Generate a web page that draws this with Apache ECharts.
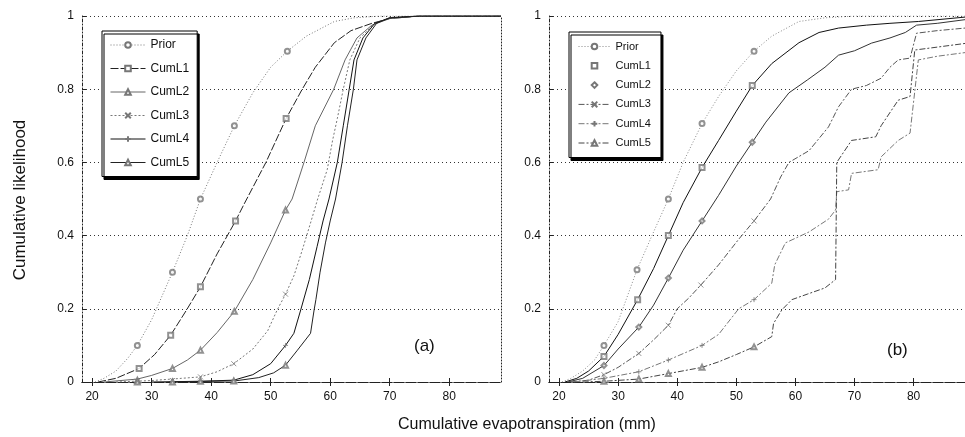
<!DOCTYPE html>
<html>
<head>
<meta charset="utf-8">
<script src="https://cdn.jsdelivr.net/npm/echarts@6/dist/echarts.min.js"></script>
<style>
  html, body { margin: 0; padding: 0; background: #fff; }
  #chart { width: 965px; height: 437px; }
</style>
</head>
<body>
<div id="chart"></div>
<script>
// tick labels
const xTicks = [20, 30, 40, 50, 60, 70, 80]
const seriesNames = ['Prior', 'CumL1', 'CumL2', 'CumL3', 'CumL4', 'CumL5']

// panel (a) curves [x, likelihood]
const priorA = [[20.5, 0], [22, 0.01], [24, 0.03], [26, 0.065], [27.6, 0.10], [30, 0.17], [33.5, 0.30], [36, 0.40], [38.2, 0.50], [41, 0.60], [43.9, 0.70], [47, 0.79], [50, 0.86], [52.8, 0.904], [56, 0.945], [60.7, 0.985], [64, 0.995], [68.5, 1], [88.7, 1]]
const cumL1A = [[21, 0], [24, 0.01], [27.9, 0.037], [30.5, 0.075], [33.2, 0.128], [35.8, 0.195], [38.2, 0.26], [41, 0.35], [44.1, 0.44], [45.5, 0.485], [49.2, 0.60], [52.6, 0.72], [55.3, 0.80], [57.5, 0.86], [60.7, 0.927], [63.5, 0.96], [67, 0.98], [70, 0.993], [75, 1], [88.7, 1]]
const cumL2A = [[22, 0], [27.6, 0.008], [30, 0.018], [33.5, 0.037], [36, 0.06], [38.2, 0.087], [41, 0.135], [43.9, 0.193], [47, 0.28], [50, 0.38], [52.5, 0.47], [53.6, 0.5], [55.6, 0.6], [57.5, 0.7], [60.6, 0.8], [62.5, 0.88], [64.5, 0.94], [67, 0.975], [70, 0.993], [75, 1], [88.7, 1]]
const cumL3A = [[24, 0], [30, 0.004], [35, 0.01], [38.2, 0.014], [41, 0.028], [43.8, 0.05], [47, 0.09], [49.5, 0.14], [51.1, 0.197], [52.5, 0.24], [53.9, 0.29], [55.3, 0.36], [56.8, 0.44], [57.9, 0.5], [59.5, 0.58], [60.4, 0.66], [61.2, 0.72], [62.2, 0.8], [63.3, 0.88], [65, 0.94], [67.5, 0.98], [70, 0.995], [75, 1], [88.7, 1]]
const cumL4A = [[30, 0], [38, 0.002], [43.8, 0.005], [47, 0.02], [50, 0.05], [52.5, 0.10], [53.9, 0.133], [55.05, 0.197], [56.5, 0.28], [57.8, 0.37], [58.8, 0.44], [59.8, 0.5], [61.2, 0.6], [62.2, 0.7], [63.2, 0.8], [64, 0.88], [65.5, 0.94], [67.5, 0.98], [70, 0.995], [75, 1], [88.7, 1]]
const cumL5A = [[33, 0], [44, 0.003], [48, 0.012], [50.5, 0.025], [52.5, 0.046], [54.5, 0.087], [56.7, 0.133], [57.3, 0.197], [57.6, 0.225], [58.3, 0.3], [59.2, 0.38], [60, 0.44], [60.9, 0.5], [62, 0.6], [62.9, 0.7], [63.9, 0.8], [64.5, 0.88], [66, 0.94], [67.8, 0.98], [70, 0.995], [75, 1], [88.7, 1]]

// panel (a) markers
const priorAMarks = [[27.6, 0.10], [33.5, 0.30], [38.2, 0.50], [43.9, 0.70], [52.8, 0.904]]
const cumL1AMarks = [[27.9, 0.037], [33.2, 0.128], [38.2, 0.26], [44.1, 0.44], [52.6, 0.72]]
const cumL2AMarks = [[27.6, 0.005], [33.5, 0.037], [38.2, 0.087], [43.9, 0.193], [52.5, 0.47]]
const cumL3AMarks = [[27.6, 0.002], [33.5, 0.004], [38.2, 0.014], [43.8, 0.05], [52.5, 0.24]]
const cumL4AMarks = [[27.6, 0], [33.5, 0.002], [38.2, 0.003], [43.8, 0.005], [52.5, 0.10]]
const cumL5AMarks = [[27.6, 0], [33.5, 0], [38.2, 0.002], [43.8, 0.003], [52.5, 0.046]]

// panel (b) curves
const priorB = [[20.5, 0], [22, 0.01], [24, 0.03], [26, 0.06], [27.6, 0.10], [30, 0.165], [33.2, 0.307], [36, 0.41], [38.5, 0.5], [41, 0.6], [44.2, 0.706], [47, 0.78], [50, 0.85], [53, 0.904], [56, 0.945], [60.6, 0.985], [65, 0.995], [70, 1], [88.7, 1]]
const cumL1B = [[21, 0], [23, 0.01], [25, 0.03], [27.6, 0.07], [30, 0.13], [33.3, 0.225], [36, 0.31], [38.5, 0.40], [41, 0.49], [44.2, 0.586], [47, 0.66], [50, 0.74], [52.7, 0.81], [56, 0.87], [60.6, 0.927], [64, 0.955], [67.3, 0.967], [72, 0.975], [76, 0.98], [80.8, 0.985], [88.7, 0.997]]
const cumL2B = [[21.5, 0], [24, 0.01], [27.6, 0.045], [30, 0.09], [33.5, 0.15], [36, 0.21], [38.5, 0.284], [41, 0.36], [44.2, 0.44], [47, 0.51], [50, 0.59], [52.7, 0.655], [55, 0.71], [58.9, 0.79], [62, 0.825], [65, 0.86], [67.3, 0.893], [70, 0.905], [72.9, 0.926], [76, 0.94], [78.6, 0.955], [80.5, 0.975], [84, 0.98], [88.7, 0.99]]
const cumL3B = [[22, 0], [25, 0.005], [27.6, 0.02], [30, 0.04], [33.5, 0.078], [36, 0.115], [38.5, 0.155], [40, 0.2], [42, 0.23], [44, 0.265], [47, 0.32], [50.4, 0.39], [53, 0.44], [55.8, 0.5], [57.5, 0.56], [58.9, 0.6], [62.3, 0.632], [65.6, 0.697], [67.3, 0.752], [69.5, 0.80], [72, 0.81], [74.5, 0.83], [76, 0.86], [77.4, 0.88], [79.4, 0.885], [80.5, 0.953], [84, 0.96], [88.7, 0.967]]
const cumL4B = [[22.5, 0], [27.6, 0.01], [33.5, 0.028], [38.5, 0.06], [44.2, 0.10], [47, 0.13], [50.4, 0.2], [53, 0.225], [56, 0.27], [56.5, 0.32], [58.3, 0.38], [62.3, 0.41], [65.6, 0.445], [66.8, 0.47], [67, 0.52], [69, 0.525], [69.5, 0.57], [74, 0.58], [74.5, 0.615], [77.4, 0.66], [79.4, 0.68], [80.8, 0.88], [84, 0.89], [88.7, 0.9]]
const cumL5B = [[24, 0], [27.6, 0.002], [33.5, 0.008], [38.5, 0.023], [44.2, 0.04], [47, 0.055], [50, 0.075], [53, 0.096], [56, 0.124], [56.3, 0.16], [57.7, 0.197], [59.4, 0.225], [62, 0.24], [65, 0.257], [66.8, 0.28], [67, 0.6], [69.5, 0.66], [73.6, 0.67], [74.5, 0.70], [77.4, 0.77], [79.4, 0.78], [80.2, 0.907], [84, 0.915], [88.7, 0.925]]

// panel (b) markers
const priorBMarks = [[27.6, 0.10], [33.2, 0.307], [38.5, 0.5], [44.2, 0.706], [53, 0.904]]
const cumL1BMarks = [[27.6, 0.07], [33.3, 0.225], [38.5, 0.40], [44.2, 0.586], [52.7, 0.81]]
const cumL2BMarks = [[27.6, 0.045], [33.5, 0.15], [38.5, 0.284], [44.2, 0.44], [52.7, 0.655]]
const cumL3BMarks = [[27.6, 0.02], [33.5, 0.078], [38.5, 0.155], [44, 0.265], [53, 0.44]]
const cumL4BMarks = [[27.6, 0.01], [33.5, 0.028], [38.5, 0.06], [44.2, 0.10], [53, 0.225]]
const cumL5BMarks = [[27.6, 0.002], [33.5, 0.008], [38.5, 0.023], [44.2, 0.04], [53, 0.096]]

const FONT = 'Liberation Sans, Arial, sans-serif'
const MARK = '#777'
const symX = 'path://M0,0L10,10M10,0L0,10'
const symPlus = 'path://M5,0L5,10M0,5L10,5'

const curvesA = [priorA, cumL1A, cumL2A, cumL3A, cumL4A, cumL5A]
const marksA = [priorAMarks, cumL1AMarks, cumL2AMarks, cumL3AMarks, cumL4AMarks, cumL5AMarks]
const curvesB = [priorB, cumL1B, cumL2B, cumL3B, cumL4B, cumL5B]
const marksB = [priorBMarks, cumL1BMarks, cumL2BMarks, cumL3BMarks, cumL4BMarks, cumL5BMarks]

const stylesA = [
  { color: '#777', type: [1, 2], symbol: 'emptyCircle' },
  { color: '#222', type: [8, 2], symbol: 'emptyRect' },
  { color: '#666', type: 'solid', symbol: 'emptyTriangle' },
  { color: '#777', type: [2, 2], symbol: symX },
  { color: '#111', type: 'solid', symbol: symPlus },
  { color: '#222', type: 'solid', symbol: 'emptyTriangle' }
]
const stylesB = [
  { color: '#888', type: [1, 2], symbol: 'emptyCircle' },
  { color: '#111', type: 'solid', symbol: 'emptyRect' },
  { color: '#333', type: 'solid', symbol: 'emptyDiamond' },
  { color: '#555', type: [6, 2, 2, 2], symbol: symX },
  { color: '#777', type: [6, 2, 2, 2], symbol: symPlus },
  { color: '#444', type: [6, 2, 2, 2], symbol: 'emptyTriangle' }
]

const chart = echarts.init(document.getElementById('chart'))

function makeAxes(gridIndex) {
  const xBase = {
    type: 'value', gridIndex, min: 18.3, max: 88.7,
    splitLine: { show: false }
  }
  const yBase = {
    type: 'value', gridIndex, min: 0, max: 1, interval: 0.2
  }
  return {
    x: [
      Object.assign({}, xBase, {
        position: 'bottom',
        axisLine: { lineStyle: { color: '#222', type: [2, 2] } },
        axisTick: { inside: true, length: 4, customValues: xTicks, lineStyle: { color: '#222' } },
        axisLabel: { customValues: xTicks, margin: 9, fontSize: 12, color: '#111', fontFamily: FONT }
      }),
      Object.assign({}, xBase, {
        position: 'top',
        axisLine: { lineStyle: { color: '#222', type: [4, 2] } },
        axisTick: { inside: true, length: 4, customValues: xTicks, lineStyle: { color: '#222' } },
        axisLabel: { show: false }
      })
    ],
    y: [
      Object.assign({}, yBase, {
        position: 'left',
        axisLine: { show: true, lineStyle: { color: '#222', type: [3, 2, 1, 2] } },
        axisTick: { show: true, inside: true, length: 4, lineStyle: { color: '#222' } },
        axisLabel: { margin: 8, fontSize: 12, color: '#111', fontFamily: FONT },
        splitLine: { show: true, lineStyle: { color: '#333', type: [1, 3] } }
      }),
      Object.assign({}, yBase, {
        position: 'right',
        axisLine: { show: true, lineStyle: { color: '#222', type: [1, 2] } },
        axisTick: { show: false },
        axisLabel: { show: false },
        splitLine: { show: false }
      })
    ]
  }
}

const axA = makeAxes(0)
const axB = makeAxes(1)

function buildSeries(curves, marks, styles, suffix, xIndex, yIndex) {
  const out = []
  curves.forEach((data, i) => {
    const st = styles[i]
    const isPath = st.symbol.indexOf('path://') === 0
    const markStyle = { color: MARK, borderColor: MARK, borderWidth: isPath ? 1 : 0.8 }
    out.push({
      name: seriesNames[i] + suffix,
      type: 'line',
      xAxisIndex: xIndex, yAxisIndex: yIndex,
      data: data,
      symbol: st.symbol,
      symbolSize: 5,
      showSymbol: false,
      lineStyle: { color: st.color, width: 1, type: st.type },
      itemStyle: markStyle,
      emphasis: { disabled: true },
      silent: true,
      z: 3
    })
    out.push({
      name: seriesNames[i] + suffix + ' marks',
      type: 'scatter',
      xAxisIndex: xIndex, yAxisIndex: yIndex,
      data: marks[i],
      symbol: st.symbol,
      symbolSize: 5,
      itemStyle: markStyle,
      emphasis: { disabled: true },
      silent: true,
      z: 4
    })
  })
  return out
}

const series = [].concat(
  buildSeries(curvesA, marksA, stylesA, '', 0, 0),
  buildSeries(curvesB, marksB, stylesB, ' (b)', 2, 2)
)

chart.setOption({
  animation: false,
  backgroundColor: '#fff',
  grid: [
    { left: 82, top: 16, width: 419, height: 366 },
    { left: 549, top: 16, width: 417, height: 366 }
  ],
  xAxis: [].concat(axA.x, axB.x.map(a => Object.assign({}, a, { gridIndex: 1 }))),
  yAxis: [].concat(axA.y, axB.y.map(a => Object.assign({}, a, { gridIndex: 1 }))),
  legend: [
    {
      data: seriesNames,
      orient: 'vertical', left: 102, top: 31,
      itemWidth: 35, itemHeight: 7, itemGap: 11.5, padding: [8, 8, 8, 8],
      lineStyle: { width: 1 },
      backgroundColor: '#fff', borderColor: '#000', borderWidth: 1,
      shadowColor: '#000', shadowOffsetX: 2, shadowOffsetY: 3, shadowBlur: 0,
      textStyle: { fontSize: 12, color: '#111', fontFamily: FONT }, selectedMode: false
    },
    {
      data: seriesNames.map((n, i) => {
        const item = { name: n + ' (b)' }
        if (i === 1 || i === 2) item.lineStyle = { opacity: 0 }
        return item
      }),
      formatter: name => name.replace(' (b)', ''),
      orient: 'vertical', left: 569, top: 32,
      itemWidth: 32, itemHeight: 7, itemGap: 8.3, padding: [9, 10, 9, 9],
      lineStyle: { width: 1 },
      backgroundColor: '#fff', borderColor: '#000', borderWidth: 1,
      shadowColor: '#000', shadowOffsetX: 2, shadowOffsetY: 3, shadowBlur: 0,
      textStyle: { fontSize: 11, color: '#111', fontFamily: FONT }, selectedMode: false
    }
  ],
  title: [
    { text: '(a)', left: 409, top: 333, textStyle: { fontSize: 17, fontWeight: 'normal', color: '#111', fontFamily: FONT } },
    { text: '(b)', left: 882, top: 337, textStyle: { fontSize: 17, fontWeight: 'normal', color: '#111', fontFamily: FONT } }
  ],
  graphic: [
    {
      type: 'text', x: 527, y: 425,
      style: { text: 'Cumulative evapotranspiration (mm)', font: '16px ' + FONT, fill: '#111', textAlign: 'center', textVerticalAlign: 'middle' }
    },
    {
      type: 'text', x: 20, y: 200, rotation: Math.PI / 2,
      style: { text: 'Cumulative likelihood', font: '17px ' + FONT, fill: '#111', textAlign: 'center', textVerticalAlign: 'middle' }
    }
  ],
  series: series
})
</script>
</body>
</html>
